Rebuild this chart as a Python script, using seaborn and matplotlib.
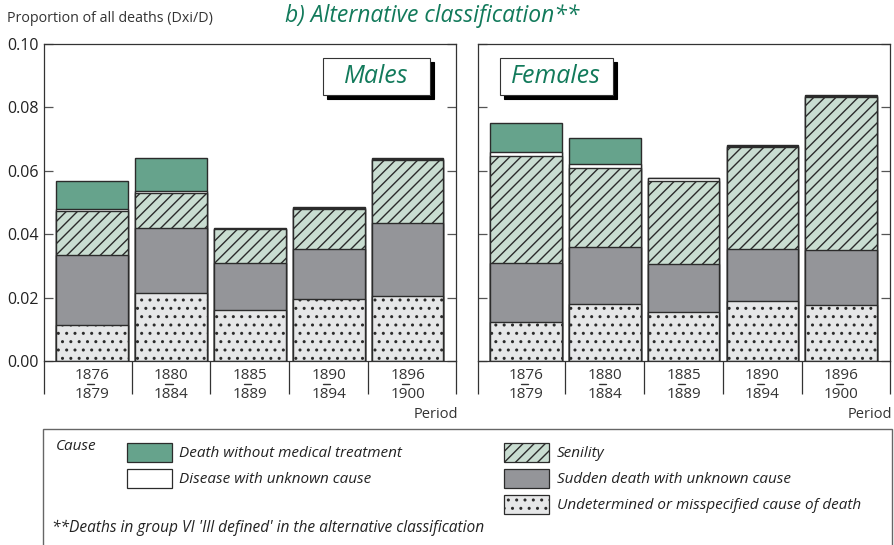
import numpy as np
import pandas as pd
import matplotlib
matplotlib.use("Agg")
import matplotlib.pyplot as plt
import matplotlib.transforms as mtransforms
from matplotlib.patches import Rectangle, Patch
from matplotlib.lines import Line2D
import seaborn as sns

# data (proportion of all deaths, per layer, bottom -> top)
periods = ["1876\n1879", "1880\n1884", "1885\n1889", "1890\n1894", "1896\n1900"]
causes = ["Undetermined or misspecified cause of death",
          "Sudden death with unknown cause",
          "Senility",
          "Disease with unknown cause",
          "Death without medical treatment"]

males_undetermined = [0.0114, 0.0214, 0.0161, 0.0195, 0.0205]
males_sudden = [0.0219, 0.0207, 0.0149, 0.0158, 0.0229]
males_senility = [0.0140, 0.0108, 0.0105, 0.0126, 0.0200]
males_disease = [0.0006, 0.0008, 0.0002, 0.0003, 0.0002]
males_no_treatment = [0.0089, 0.0102, 0.0003, 0.0005, 0.0003]

females_undetermined = [0.0124, 0.0180, 0.0156, 0.0189, 0.0176]
females_sudden = [0.0186, 0.0179, 0.0149, 0.0164, 0.0174]
females_senility = [0.0337, 0.0249, 0.0264, 0.0322, 0.0484]
females_disease = [0.0012, 0.0012, 0.0009, 0.0002, 0.0002]
females_no_treatment = [0.0091, 0.0083, 0.0000, 0.0004, 0.0003]

colors = ["#e6e7e8", "#949599", "#c9ddd1", "#ffffff", "#66a38c"]
hatches = ["..", None, "///", None, None]
title_green = "#127a5b"
edge = "#2b2b2b"

sns.set_theme(style="white")
plt.rcParams["font.family"] = ["Open Sans", "DejaVu Sans"]
plt.rcParams["hatch.linewidth"] = 1.0
plt.rcParams["hatch.color"] = "black"

W, H = 894, 545
fig = plt.figure(figsize=(W / 100, H / 100), dpi=100)
ax_m = fig.add_axes([44 / W, 1 - 361 / H, 412.5 / W, 317 / H])
ax_f = fig.add_axes([478 / W, 1 - 361 / H, 412 / W, 317 / H])


def draw_panel(ax, layers, label, show_ylabels):
    cum = np.cumsum(np.array(layers), axis=0)
    df = pd.DataFrame(cum.T, columns=causes)
    df["period"] = periods
    # draw cumulative totals from top layer down so lower layers overlay
    for k in range(len(causes) - 1, -1, -1):
        sns.barplot(data=df, x="period", y=causes[k], ax=ax, color=colors[k],
                    saturation=1, width=0.91, errorbar=None,
                    edgecolor=edge, linewidth=1.0, hatch=hatches[k])
    ax.set_ylim(0, 0.10)
    ax.set_xlim(-0.61, 4.62)
    ax.set_xlabel("")
    ax.set_ylabel("")
    yt = np.arange(0, 0.101, 0.02)
    ax.set_yticks(yt)
    ax.set_yticklabels([f"{v:.2f}" for v in yt] if show_ylabels else [])
    ax.tick_params(axis="y", direction="in", length=6.5, width=0.9,
                   left=True, right=True, labelleft=show_ylabels,
                   labelsize=11.5, pad=4, colors="#555555", labelcolor="#222222")
    ax.tick_params(axis="x", which="major", length=0, labelsize=11,
                   pad=5, labelcolor="#333333")
    ax.set_xticks([-0.61, 0.5, 1.5, 2.5, 3.5, 4.62], minor=True)
    ax.tick_params(axis="x", which="minor", direction="out", length=23.5,
                   width=0.9, color="#333333", bottom=True)
    for s in ax.spines.values():
        s.set_visible(True)
        s.set_color("#333333")
        s.set_linewidth(0.9)
    ax.grid(False)
    for lab in ax.get_xticklabels():
        lab.set_linespacing(1.35)
    # dash between the two years of each period
    tr = mtransforms.blended_transform_factory(ax.transData, ax.transAxes)
    for i in range(len(periods)):
        ax.add_line(Line2D([i - 0.07, i + 0.02], [-0.073, -0.073], transform=tr,
                           color="#333333", lw=1.0, clip_on=False))
    ax.text(1.005, -0.17, "Period", transform=ax.transAxes, ha="right",
            va="center", fontsize=10.5, color="#333333")
    # label box with shadow
    bx, by, bw, bh = label
    dx, dy = 4 / 412, -4 / 317
    ax.add_patch(Rectangle((bx + dx, by + dy), bw, bh, transform=ax.transAxes,
                           fc="black", ec="black", lw=0.8, zorder=5))
    ax.add_patch(Rectangle((bx, by), bw, bh, transform=ax.transAxes,
                           fc="white", ec="#333333", lw=0.8, zorder=6))
    return ax


draw_panel(ax_m, [males_undetermined, males_sudden, males_senility,
                  males_disease, males_no_treatment],
           (0.676, 0.839, 0.259, 0.117), True)
ax_m.text(0.676 + 0.259 / 2, 0.897, "Males", transform=ax_m.transAxes,
          ha="center", va="center", fontsize=18, style="italic",
          color=title_green, zorder=7)

draw_panel(ax_f, [females_undetermined, females_sudden, females_senility,
                  females_disease, females_no_treatment],
           (0.053, 0.839, 0.274, 0.117), False)
ax_f.text(0.053 + 0.274 / 2, 0.897, "Females", transform=ax_f.transAxes,
          ha="center", va="center", fontsize=18, style="italic",
          color=title_green, zorder=7)

fig.text(7 / W, 1 - 18 / H, "Proportion of all deaths (Dxi/D)", ha="left",
         va="center", fontsize=10.3, color="#333333")
fig.text(432 / W, 1 - 16 / H, "b) Alternative classification**", ha="center",
         va="center", fontsize=16.5, style="italic", color=title_green)

# legend box
fig.patches.append(Rectangle((43 / W, -0.02), (W - 2 - 43) / W, 1 - 429 / H + 0.02,
                             transform=fig.transFigure, fc="white",
                             ec="#666666", lw=1.0))
fig.text(56 / W, 1 - 446 / H, "Cause", ha="left", va="center", fontsize=11,
         style="italic", color="#222222")
fig.text(52 / W, 1 - 528 / H,
         "**Deaths in group VI 'Ill defined' in the alternative classification",
         ha="left", va="center", fontsize=11.2, style="italic", color="#222222")

handles = []
for k in [4, 3]:
    handles.append(Patch(fc=colors[k], ec=edge, lw=0.9, hatch=hatches[k],
                         label=causes[k]))
handles.append(Patch(fc="none", ec="none", label=" "))
for k in [2, 1, 0]:
    handles.append(Patch(fc=colors[k], ec=edge, lw=0.9, hatch=hatches[k],
                         label=causes[k]))
leg = fig.legend(handles=handles, ncol=2, loc="upper left",
                 bbox_to_anchor=(113 / W, 1 - 429 / H), frameon=False,
                 handlelength=2.95, handleheight=1.55, handletextpad=0.5,
                 labelspacing=0.45, columnspacing=6.65,
                 prop={"style": "italic", "size": 11})
for t in leg.get_texts():
    t.set_color("#222222")

fig.savefig("out.png", dpi=100)
